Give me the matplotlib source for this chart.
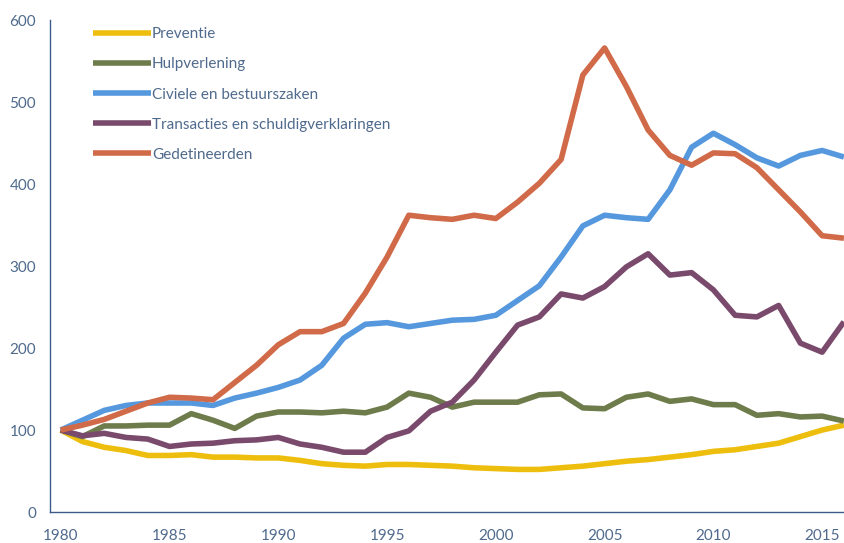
import matplotlib
matplotlib.use('Agg')
import matplotlib.pyplot as plt
import numpy as np

years = np.arange(1980, 2017)

preventie = [100, 86, 79, 75, 69, 69, 70, 67, 67, 66, 66, 63, 59, 57, 56, 58, 58, 57, 56, 54,
             53, 52, 52, 54, 56, 59, 62, 64, 67, 70, 74, 76, 80, 84, 92, 100, 106]
hulpverlening = [100, 92, 105, 105, 106, 106, 120, 112, 102, 117, 122, 122, 121, 123, 121, 128,
                 145, 140, 128, 134, 134, 134, 143, 144, 127, 126, 140, 144, 135, 138, 131, 131,
                 118, 120, 116, 117, 111]
civiele = [100, 112, 124, 130, 133, 133, 133, 130, 139, 145, 152, 161, 179, 212, 229, 231,
           226, 230, 234, 235, 240, 258, 276, 311, 349, 362, 359, 357, 393, 445, 462, 448,
           432, 422, 435, 441, 433]
transacties = [100, 93, 96, 91, 89, 80, 83, 84, 87, 88, 91, 83, 79, 73, 73, 91, 99, 123, 134,
               161, 195, 228, 238, 266, 261, 275, 299, 315, 289, 292, 271, 240, 238, 252, 206,
               195, 232]
gedetineerden = [100, 106, 113, 123, 133, 140, 139, 137, 158, 179, 204, 220, 220, 230, 267,
                 311, 362, 359, 357, 362, 358, 378, 401, 430, 533, 566, 519, 466, 435, 423,
                 438, 437, 420, 393, 366, 337, 334]

labels = ['Preventie', 'Hulpverlening', 'Civiele en bestuurszaken',
          'Transacties en schuldigverklaringen', 'Gedetineerden']
colors = ['#EEBE0E', '#6E7B4B', '#5698DE', '#7A4A6C', '#D06A48']
series = [preventie, hulpverlening, civiele, transacties, gedetineerden]

text_col = '#4F6A8C'
plt.rcParams['font.family'] = ['Lato', 'DejaVu Sans']

fig = plt.figure(figsize=(8.45, 5.43), dpi=100)
ax = fig.add_axes([0.059, 0.057, 0.941, 0.906])

for vals, lab, c in zip(series, labels, colors):
    ax.plot(years, vals, color=c, lw=4, label=lab, solid_joinstyle='round',
            solid_capstyle='butt', clip_on=False)

ax.set_xlim(1979.5, 2016.05)
ax.set_ylim(0, 600)
ax.set_xticks(np.arange(1980, 2016, 5))
ax.set_yticks(np.arange(0, 601, 100))
ax.tick_params(length=0, labelsize=11, colors=text_col, pad=10)
ax.tick_params(axis='x', pad=12)
for s in ['top', 'right']:
    ax.spines[s].set_visible(False)
for s in ['left', 'bottom']:
    ax.spines[s].set_color('#3E5C8A')
    ax.spines[s].set_linewidth(1)

leg = ax.legend(loc='upper left', bbox_to_anchor=(0.037, 1.013), frameon=False,
                fontsize=11, handlelength=3.8, handletextpad=0.05, labelspacing=1.05)
for t in leg.get_texts():
    t.set_color(text_col)

fig.savefig('out.png', dpi=100)
